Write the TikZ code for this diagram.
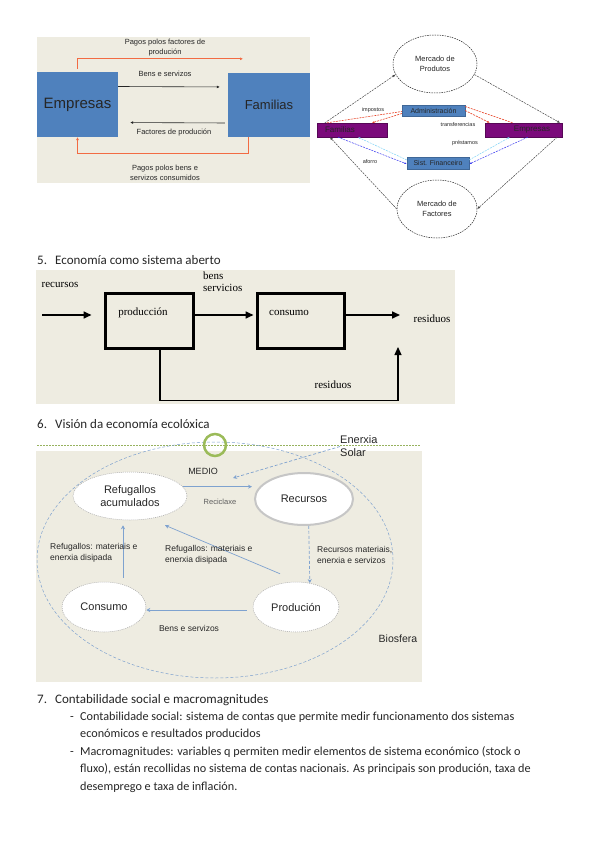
\documentclass[tikz,border=0pt]{standalone}
\usepackage{fontspec}
\setmainfont{Carlito}
\newfontfamily\arialf{Liberation Sans}
\newfontfamily\timesf{Liberation Serif}
\usepackage{tikz}
\usetikzlibrary{arrows.meta,positioning,shapes.geometric}
\usepackage{xcolor}
\definecolor{Paper}{HTML}{EEECE1}
\definecolor{BoxBlue}{HTML}{4F81BD}
\definecolor{Pago}{HTML}{F26B43}
\definecolor{Morado}{HTML}{7B0A7B}
\definecolor{Imposto}{HTML}{E8462A}
\definecolor{Aforro}{HTML}{3B3BF0}
\definecolor{Credito}{HTML}{7FD3F7}
\definecolor{Medio}{HTML}{7EA2CF}
\definecolor{Folla}{HTML}{9BBB59}
\definecolor{Tinta}{HTML}{262626}
\newcommand{\tam}[2]{\fontsize{#1}{#2}\selectfont}

\tikzset{
  bluebox/.style={fill=BoxBlue,inner sep=0pt,text=Tinta},
  rotulo/.style={font=\arialf\tam{7.5}{10.5},text=Tinta,align=center,inner sep=0pt},
  fluxo/.style={draw=Tinta,line width=0.6pt,-{Latex[length=3pt,width=3pt]}},
  pago/.style={draw=Pago,line width=0.9pt,-{Latex[length=3pt,width=3pt]}},
  mercado/.style={ellipse,draw=Tinta,dash pattern=on 1.5pt off 1pt,line width=0.5pt,
    inner sep=0pt,align=center,font=\arialf\tam{7.5}{10},text=Tinta},
  moradobox/.style={fill=Morado,draw=Morado!70!black,line width=0.3pt,minimum height=14pt,
    inner ysep=0pt,font=\arialf\tam{8}{9},text=Tinta},
  sectorbox/.style={fill=BoxBlue,draw=BoxBlue!80!black,line width=0.3pt,inner sep=0pt,
    font=\arialf\tam{7}{8},text=Tinta},
  mfluxo/.style={draw=Tinta!85,dash pattern=on 2pt off 1pt,line width=0.5pt,-{Latex[length=3pt,width=2.5pt]}},
  imp/.style={draw=Imposto,dash pattern=on 2pt off 1pt,line width=0.6pt},
  afor/.style={draw=Aforro,dash pattern=on 2pt off 1pt,line width=0.5pt},
  cred/.style={draw=Credito,dash pattern=on 2pt off 1pt,line width=0.5pt},
  peq/.style={font=\arialf\tam{5.5}{6.5},text=Tinta,inner sep=0pt},
  caixa/.style={draw=black,line width=3pt,inner sep=0pt},
  serif/.style={font=\timesf\tam{11}{12},inner sep=0pt,align=left},
  grosa/.style={draw=black,line width=1.6pt,-{Triangle[length=8pt,width=7pt]}},
  globo/.style={ellipse,fill=white,draw=gray!70,dash pattern=on 1pt off 1pt,line width=0.5pt,
    align=center,font=\arialf\tam{11}{13},inner sep=0pt,text=Tinta},
  medio/.style={draw=Medio,line width=0.7pt,-{Stealth[length=4pt,width=4pt]}},
  mrot/.style={font=\arialf\tam{8.5}{11},text=Tinta,align=left,inner sep=0pt},
  texto/.style={font=\tam{12.2}{14},text=Tinta,anchor=base west,inner sep=0pt},
  titulo/.style={font=\tam{13}{15},text=Tinta,anchor=base west,inner sep=0pt}
}

\begin{document}
\begin{tikzpicture}[x=1pt,y=-1pt,>=Latex]
  \fill[white] (0,0) rectangle (599,848);
  \useasboundingbox (0,0) rectangle (599,848);

  % circuito economico
  \fill[Paper] (37,37) rectangle (310,183);
  \node[bluebox,minimum width=81pt,minimum height=65pt,font=\arialf\tam{15}{18}] (emp) at (77.5,104.5) {Empresas};
  \node[bluebox,minimum width=82pt,minimum height=64pt,font=\arialf\tam{13}{16}] (fam) at (269,105) {Familias};
  \draw[fluxo,shorten >=8pt] ([yshift=18pt]emp.east) -- ([yshift=18pt]fam.west);
  \draw[fluxo,shorten >=12pt,shorten <=3pt] ([yshift=-18pt]fam.west) -- ([yshift=-18pt]emp.east);
  \draw[pago] ([yshift=3pt]emp.north) |- ([xshift=-26pt,yshift=14pt]fam.north);
  \draw[pago] ([xshift=-21pt]fam.south) -- ++(0,16) -| (emp.south);
  \node[rotulo] (lpf) at (165,47.5) {Pagos polos factores de\\produción};
  \node[rotulo] (lbs) at (165,74) {Bens e servizos};
  \node[rotulo] (lfp) at (174,133) {Factores de produción};
  \node[rotulo] (lpb) at (165,173) {Pagos polos bens e\\servizos consumidos};

  % fluxo circular con sector publico
  \node[mercado,minimum width=84pt,minimum height=58pt] (mprod) at (435,64) {Mercado de\\Produtos};
  \node[mercado,minimum width=80pt,minimum height=58pt] (mfact) at (437,209) {Mercado de\\Factores};
  \node[moradobox,text width=54pt,inner xsep=8pt,align=left] (fam2) at (352,130) {Familias};
  \node[moradobox,text width=53pt,inner xsep=12pt,align=right] (emp2) at (523.5,130) {Empresas};
  \node[sectorbox,minimum width=63pt,minimum height=11pt] (admin) at (433.5,110.5) {Administración};
  \node[sectorbox,minimum width=62pt,minimum height=12pt] (sist) at (438,163) {Sist. Financeiro};
  \draw[mfluxo] ([xshift=8pt]fam2.north west) -- (mprod.195);
  \draw[mfluxo] (mprod.-15) -- ([xshift=-2pt]emp2.north east);
  \draw[mfluxo] ([xshift=-5pt]emp2.south east) -- (mfact.east);
  \draw[mfluxo] (mfact.west) -- ([xshift=13pt]fam2.south west);
  \draw[imp] ([xshift=10pt]fam2.north west) -- ([yshift=-1pt]admin.west);
  \draw[imp,-{Latex[length=2.5pt]}] ([yshift=-3pt]admin.west) -- ([xshift=55pt]fam2.north west);
  \draw[imp] ([yshift=4pt]admin.east) -- ([xshift=28pt]emp2.north west);
  \draw[imp,-{Latex[length=2.5pt]}] (admin.east) -- ([xshift=5pt]emp2.north west);
  \draw[afor,-{Latex[length=2.5pt]}] ([xshift=21pt]fam2.south west) -- ([yshift=-1pt]sist.west);
  \draw[cred,-{Latex[length=2.5pt]}] ([yshift=3pt]sist.west) -- ([xshift=41pt]fam2.south west);
  \draw[cred,-{Latex[length=2.5pt]}] ([yshift=3pt]sist.east) -- ([xshift=25pt]emp2.south west);
  \draw[afor,-{Latex[length=2.5pt]}] ([xshift=43pt]emp2.south west) -- ([yshift=-1pt]sist.east);
  \node[peq] (limp) at (373,110) {impostos};
  \node[peq] (ltra) at (458,125) {transferencias};
  \node[peq] (lpre) at (465,143) {préstamos};
  \node[peq] (lafo) at (370,162) {aforro};

  % 5. sistema aberto
  \node[titulo] (n5) at (37,264) {5.};
  \node[titulo] (h5) at (55,264) {Economía como sistema aberto};
  \fill[Paper] (36,270) rectangle (455,404);
  \node[caixa,minimum width=88pt,minimum height=55pt] (prod) at (149,320.5) {};
  \node[caixa,minimum width=87pt,minimum height=55pt] (cons) at (300.5,320.5) {};
  \node[serif] (tprod) at (143,313) {producción};
  \node[serif] (tcons) at (289,313) {consumo};
  \coordinate (entrada) at (42,315);
  \coordinate (saida) at (400,315);
  \coordinate (retorno) at (398,347);
  \draw[grosa,shorten >=12pt] (entrada) -- (entrada -| prod.west);
  \draw[grosa,shorten >=2pt] (prod.east |- entrada) -- (cons.west |- entrada);
  \draw[grosa] (cons.east |- entrada) -- (saida);
  \draw[grosa,line width=1.2pt] ([xshift=11pt]prod.south) -- ++(0,51) -| (retorno);
  \node[serif] (lrec) at (60,285) {recursos};
  \node[serif,anchor=west] (lbens) at (203,282) {bens\\servicios};
  \node[serif] (lres) at (432,319) {residuos};
  \node[serif] (lres2) at (333,385) {residuos};

  % 6. economia ecoloxica
  \node[titulo] (n6) at (37,428) {6.};
  \node[titulo] (h6) at (55,428) {Visión da economía ecolóxica};
  \draw[Folla!85!gray,dash pattern=on 2pt off 1pt,line width=0.8pt] (37,445) -- (420,445);
  \fill[Paper] (36,451) rectangle (422,682);
  \node[ellipse,draw=Medio,dash pattern=on 3pt off 2pt,line width=0.5pt,minimum width=356pt,minimum height=236pt] (bio) at (215,560) {};
  \node[circle,draw=Folla,line width=2.5pt,minimum size=22pt,inner sep=0pt] (anel) at (215,445) {};
  \node[globo,minimum width=114pt,minimum height=48pt] (refug) at (130,496) {Refugallos\\acumulados};
  \node[globo,draw=gray!45,line width=2pt,solid,minimum width=98pt,minimum height=52pt] (recur) at (304,499) {Recursos};
  \node[globo,minimum width=84pt,minimum height=50pt] (consu) at (104,607) {Consumo};
  \node[globo,minimum width=86pt,minimum height=50pt] (produ) at (296,607) {Produción};
  \node[font=\arialf\tam{11}{13},text=Tinta,align=left,anchor=west,inner sep=0pt] (solar) at (340,446.5) {Enerxia\\Solar};
  \coordinate (chegada) at (233,478);
  \draw[medio,shorten >=2pt] (refug.10) -- (recur.west |- refug.10);
  \draw[medio,dash pattern=on 3pt off 2pt] (solar.west) -- (chegada);
  \draw[medio,dash pattern=on 3pt off 2pt] (recur.-80) -- (produ.60);
  \draw[medio] ([xshift=-16pt,yshift=8pt]produ.north) -- ([xshift=35pt,yshift=-5pt]refug.south);
  \draw[medio,shorten >=5pt] ([xshift=19pt,yshift=4pt]consu.north) -- ([xshift=19pt]consu.north |- refug.south);
  \draw[medio,shorten <=6pt] ([yshift=-3pt]produ.west) -- ([yshift=-3pt]consu.east);
  \node[font=\arialf\tam{9}{10},text=Tinta,inner sep=0pt] (lmed) at (203,471) {MEDIO};
  \node[font=\arialf\tam{7.5}{9},text=Tinta!75,inner sep=0pt] (lrecic) at (220,502) {Reciclaxe};
  \node[mrot,anchor=west] (lrm) at (317,554.5) {Recursos materiais,\\enerxia e servizos};
  \node[mrot,anchor=west] (lrp) at (165,554.5) {Refugallos: materiais e\\enerxia disipada};
  \node[mrot,anchor=west] (lrc) at (50,552.5) {Refugallos: materiais e\\enerxia disipada};
  \node[mrot] (lbens2) at (189,628) {Bens e servizos};
  \node[font=\arialf\tam{10.5}{12},text=Tinta,inner sep=0pt] (lbio) at (398,639) {Biosfera};

  % 7. contabilidade social
  \node[titulo] (n7) at (37,703) {7.};
  \node[titulo] (h7) at (55,703) {Contabilidade social e macromagnitudes};
  \node[texto] (g1) at (70,720) {-};
  \node[texto] (t1) at (80,720) {Contabilidade social: sistema de contas que permite medir funcionamento dos sistemas};
  \node[texto] (t2) at (80,737) {económicos e resultados producidos};
  \node[texto] (g2) at (70,755) {-};
  \node[texto] (t3) at (80,755) {Macromagnitudes: variables q permiten medir elementos de sistema económico (stock o};
  \node[texto] (t4) at (80,772) {fluxo), están recollidas no sistema de contas nacionais. As principais son produción, taxa de};
  \node[texto] (t5) at (80,790) {desemprego e taxa de inflación.};
\end{tikzpicture}
\end{document}
